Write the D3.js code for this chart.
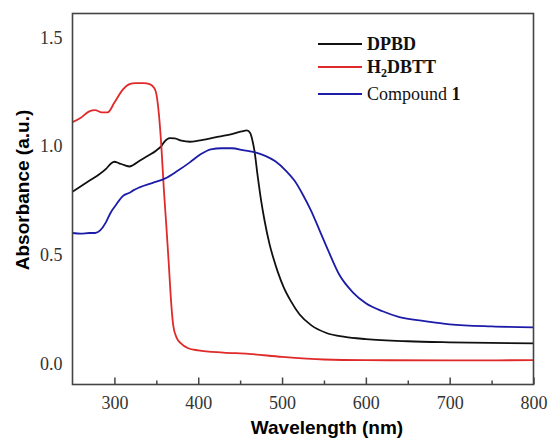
<!DOCTYPE html>
<html><head><meta charset="utf-8">
<script src="https://cdn.jsdelivr.net/npm/d3@7"></script>
<style>body{margin:0;background:#fff}</style>
</head><body><svg id="c" width="550" height="442"></svg>
<script>
const seriesNames = ["DPBD", "H2DBTT", "Compound 1"];
const seriesColors = ["#111111", "#e02a2a", "#1c1ca8"];
const dpbdWl = [250,260,270,280,290,296,300,305,312,318,322,330,340,350,356,360,366,372,380,390,400,420,440,452,458,462,465,467,471,475,479,485,490,495,502,510,521,535,553,575,600,650,700,800];
const dpbdAbs = [0.79,0.815,0.84,0.865,0.895,0.92,0.928,0.922,0.912,0.906,0.912,0.932,0.955,0.98,1.0,1.022,1.037,1.035,1.025,1.02,1.025,1.04,1.055,1.068,1.072,1.06,1.02,0.98,0.86,0.75,0.66,0.55,0.48,0.42,0.35,0.29,0.225,0.175,0.14,0.122,0.112,0.102,0.097,0.092];
const h2Wl = [250,260,270,277,285,292,300,310,318,325,335,342,347,350,353,356,359,362,365,367,370,374,380,388,400,430,460,500,550,600,700,800];
const h2Abs = [1.11,1.13,1.16,1.165,1.155,1.155,1.2,1.26,1.285,1.29,1.29,1.285,1.27,1.24,1.15,1.0,0.8,0.63,0.45,0.32,0.18,0.12,0.09,0.07,0.06,0.05,0.044,0.03,0.018,0.015,0.014,0.015];
const cpdWl = [250,260,270,277,283,290,295,302,310,318,322,330,345,360,375,390,402,415,428,440,455,467,480,492,505,515,525,535,545,555,568,585,600,620,640,670,700,750,800];
const cpdAbs = [0.6,0.597,0.6,0.6,0.612,0.65,0.69,0.73,0.77,0.785,0.795,0.81,0.83,0.85,0.885,0.925,0.96,0.985,0.99,0.99,0.98,0.972,0.955,0.93,0.885,0.84,0.775,0.70,0.61,0.52,0.41,0.325,0.277,0.24,0.213,0.195,0.18,0.17,0.166];
const xTicks = [300,400,500,600,700,800];
const xMinorTicks = [350,450,550,650,750];
const yTicks = [0,0.5,1.0,1.5];

const svg = d3.select("#c");
const L=72.5, R=533.5, T=13.5, B=384.5;
const x = d3.scaleLinear().domain([250,800]).range([L,R]);
const y = d3.scaleLinear().domain([-0.097,1.61]).range([B,T]);

const series = [
  {wl:dpbdWl, v:dpbdAbs},
  {wl:h2Wl, v:h2Abs},
  {wl:cpdWl, v:cpdAbs}
];
const line = d3.line().x(d=>x(d[0])).y(d=>y(d[1])).curve(d3.curveMonotoneX);
series.forEach((s,i)=>{
  svg.append("path").datum(s.wl.map((w,j)=>[w,s.v[j]]))
    .attr("d",line).attr("fill","none").attr("stroke",seriesColors[i]).attr("stroke-width",1.8);
});

// frame
svg.append("rect").attr("x",L).attr("y",T).attr("width",R-L).attr("height",B-T)
  .attr("fill","none").attr("stroke","#444").attr("stroke-width",1.6);

// x axis ticks inward
const xAxis = d3.axisBottom(x).tickValues(xTicks).tickSize(-7).tickFormat(d3.format("d")).tickSizeOuter(0);
const gx = svg.append("g").attr("transform",`translate(0,${B})`).call(xAxis);
gx.select(".domain").remove();
gx.selectAll("line").attr("stroke","#444").attr("stroke-width",1.5);
gx.selectAll("text").attr("y",12).attr("dy","0.71em").attr("font-family","Liberation Serif, serif").attr("font-size",18).attr("fill","#333");
const xMinor = d3.axisBottom(x).tickValues(xMinorTicks).tickSize(-4).tickFormat("");
const gxm = svg.append("g").attr("transform",`translate(0,${B})`).call(xMinor);
gxm.select(".domain").remove();
gxm.selectAll("line").attr("stroke","#444").attr("stroke-width",1.5);

// y axis labels (no tick marks)
const yAxis = d3.axisLeft(y).tickValues(yTicks).tickSize(0).tickFormat(d3.format(".1f"));
const gy = svg.append("g").attr("transform",`translate(${L},0)`).call(yAxis);
gy.select(".domain").remove();
gy.selectAll("text").attr("x",-10).attr("font-family","Liberation Serif, serif").attr("font-size",18).attr("fill","#333");

// axis titles
svg.append("text").attr("x",327).attr("y",434).attr("text-anchor","middle")
  .attr("font-family","Liberation Sans, Arial, sans-serif").attr("font-weight","bold").attr("font-size",19)
  .text("Wavelength (nm)");
svg.append("text").attr("transform","translate(29,190) rotate(-90)").attr("text-anchor","middle")
  .attr("font-family","Liberation Sans, Arial, sans-serif").attr("font-weight","bold").attr("font-size",19)
  .text("Absorbance (a.u.)");

// legend
const legY = [44,67,94];
const lg = svg.append("g").attr("font-family","Liberation Serif, serif").attr("font-size",18);
seriesNames.forEach((n,i)=>{
  lg.append("line").attr("x1",318).attr("x2",362).attr("y1",legY[i]).attr("y2",legY[i])
    .attr("stroke",seriesColors[i]).attr("stroke-width",1.8);
  const t = lg.append("text").attr("x",367).attr("y",legY[i]+6).attr("fill","#111");
  if(i===0){ t.attr("font-weight","bold").text(n); }
  else if(i===1){
    t.attr("font-weight","bold");
    t.append("tspan").text("H");
    t.append("tspan").attr("font-size",12).attr("dy",4).text("2");
    t.append("tspan").attr("dy",-4).text("DBTT");
  } else {
    t.append("tspan").text("Compound ");
    t.append("tspan").attr("font-weight","bold").text("1");
  }
});
</script></body></html>
